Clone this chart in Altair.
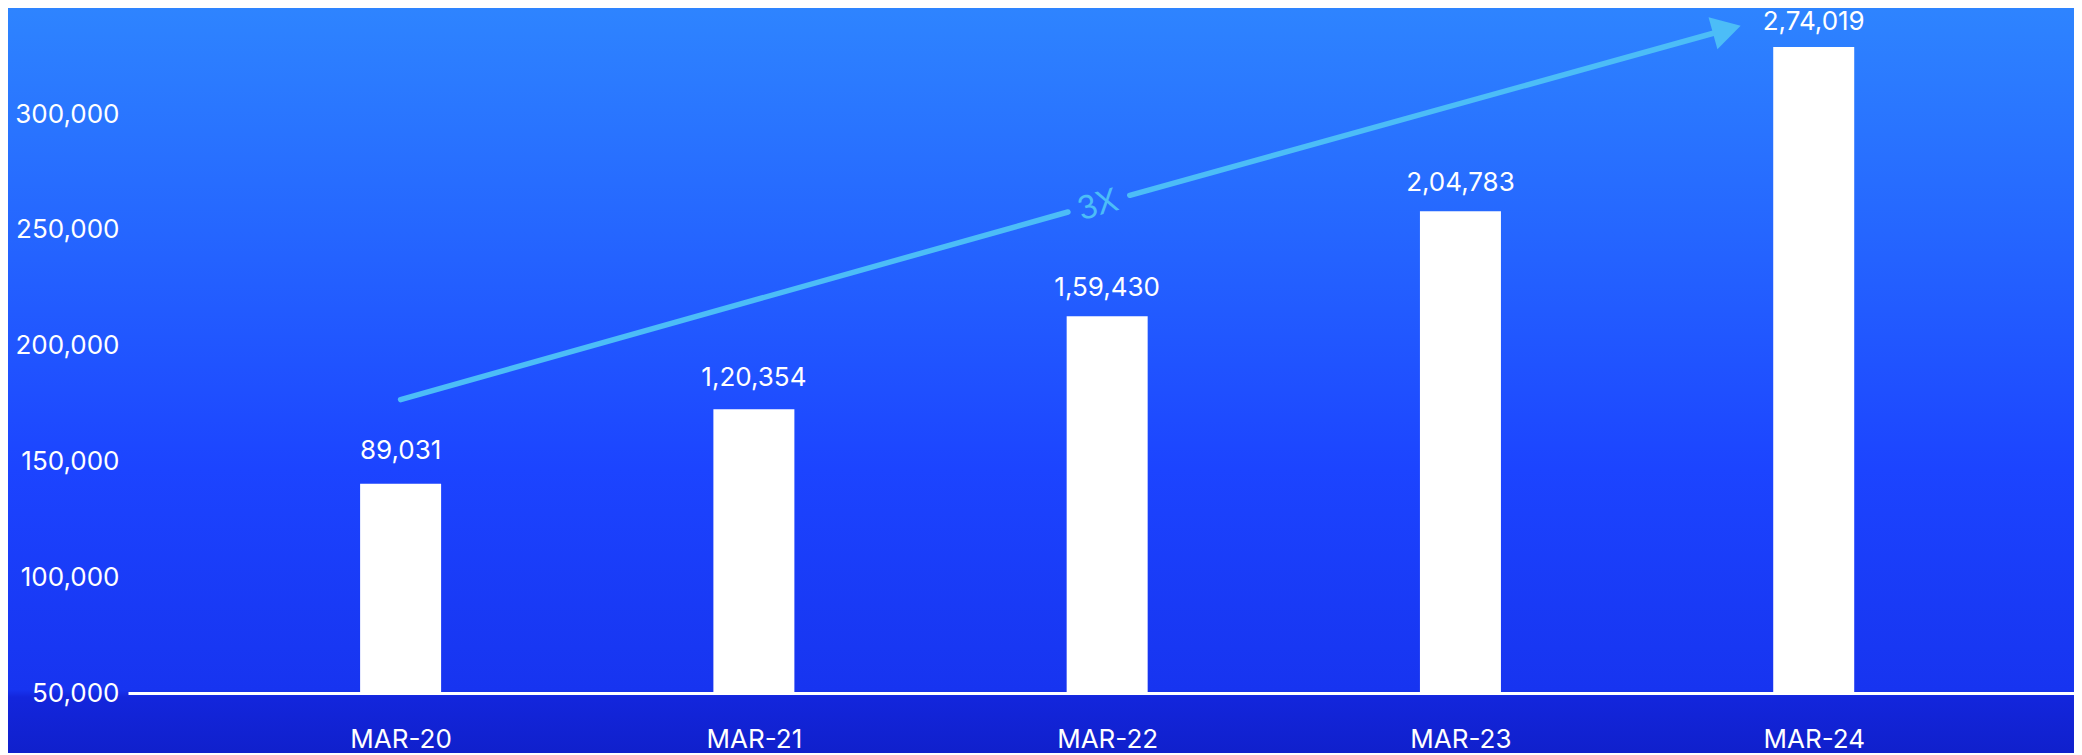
import json
import altair as alt
import pandas as pd

# ---------------- data ----------------
categories = ["MAR-20", "MAR-21", "MAR-22", "MAR-23", "MAR-24"]
bar_tops = [140400, 172500, 212650, 258000, 328900]        # bar tops
label_values = [89031, 120354, 159430, 204783, 274019]     # printed values above the bars
y_ticks = [50000, 100000, 150000, 200000, 250000, 300000]
axis_base = 50000

# trend arrow annotation (x in category-index units, y in axis units)
seg_x1 = [0.0, 2.064]
seg_x2 = [1.889, 3.754]
seg_y1 = [176680, 264900]
seg_y2 = [257690, 336490]
head_x = [3.754]
head_y = [336490]
note_x = [1.974]
note_y = [260580]
note_text = ["3X"]


def indian(n):
    s = str(n)
    if len(s) <= 3:
        return s
    last3, rest = s[-3:], s[:-3]
    parts = []
    while len(rest) > 2:
        parts.insert(0, rest[-2:])
        rest = rest[:-2]
    if rest:
        parts.insert(0, rest)
    return ",".join(parts + [last3])


df = pd.DataFrame({
    "idx": list(range(len(categories))),
    "cat": categories,
    "top": bar_tops,
    "base": [axis_base] * len(categories),
    "val": label_values,
    "label": [indian(v) for v in label_values],
})
seg_df = pd.DataFrame({"x1": seg_x1, "x2": seg_x2, "y1": seg_y1, "y2": seg_y2})
head_df = pd.DataFrame({"x": head_x, "y": head_y})
note_df = pd.DataFrame({"x": note_x, "y": note_y, "t": note_text})

W, H = 1946, 685
PAD = {"left": 120, "right": 0, "top": 0, "bottom": 60}
FONT = "Inter"
ARROW = "#4cbdf7"

xscale = alt.Scale(domain=[-0.7575, 4.7226], nice=False, zero=False)
yscale = alt.Scale(domain=[50000, 345769], nice=False, zero=False)

label_expr = json.dumps(categories) + "[datum.value]"

x_axis = alt.Axis(
    values=list(range(len(categories))), labelExpr=label_expr, title=None,
    domain=True, domainColor="white", domainWidth=3, ticks=False, grid=False,
    labelAngle=0, labelBaseline="middle", labelPadding=46, labelFontSize=26,
    labelColor="white", labelFont=FONT, zindex=1,
)
y_axis = alt.Axis(
    values=y_ticks, labelExpr="format(datum.value, ',')", title=None,
    domain=False, ticks=False, grid=False,
    labelBaseline="middle", labelPadding=9, labelFontSize=26, labelColor="white",
    labelFont=FONT, zindex=1,
)

gradient = alt.LinearGradient(
    gradient="linear",
    stops=[
        alt.GradientStop(color="#2e84ff", offset=0),
        alt.GradientStop(color="#2566ff", offset=0.3),
        alt.GradientStop(color="#1c44ff", offset=0.62),
        alt.GradientStop(color="#1734f0", offset=0.915),
        alt.GradientStop(color="#1326dc", offset=0.925),
        alt.GradientStop(color="#1020cc", offset=1),
    ],
    x1=0, x2=0, y1=0, y2=1,
)

bg = alt.Chart(pd.DataFrame({"a": [0]})).mark_rect(color=gradient).encode(
    x=alt.value(-PAD["left"]), x2=alt.value(W + PAD["right"]),
    y=alt.value(-PAD["top"]), y2=alt.value(H + PAD["bottom"]),
)

bars = alt.Chart(df).mark_bar(color="white", width=81).encode(
    x=alt.X("idx:Q", scale=xscale, axis=x_axis),
    y=alt.Y("top:Q", scale=yscale, axis=y_axis),
    y2="base:Q",
)

texts = alt.Chart(df).transform_calculate(
    ly="datum.val + " + str(axis_base)
).mark_text(
    color="white", fontSize=26, font=FONT, baseline="middle", dy=-36
).encode(
    x=alt.X("idx:Q", scale=xscale, axis=x_axis),
    y=alt.Y("ly:Q", scale=yscale, axis=y_axis),
    text="label:N",
)

segs = alt.Chart(seg_df).mark_rule(color=ARROW, strokeWidth=5.5, strokeCap="round").encode(
    x=alt.X("x1:Q", scale=xscale, axis=x_axis), x2="x2:Q",
    y=alt.Y("y1:Q", scale=yscale, axis=y_axis), y2="y2:Q",
)

head = alt.Chart(head_df).mark_point(
    shape="triangle-right", filled=True, size=1100, angle=344.5, color=ARROW, opacity=1
).encode(
    x=alt.X("x:Q", scale=xscale, axis=x_axis),
    y=alt.Y("y:Q", scale=yscale, axis=y_axis),
)

note = alt.Chart(note_df).mark_text(
    color=ARROW, fontSize=32, font=FONT, fontWeight=400, angle=344.5,
    baseline="middle", align="center",
).encode(
    x=alt.X("x:Q", scale=xscale, axis=x_axis),
    y=alt.Y("y:Q", scale=yscale, axis=y_axis),
    text="t:N",
)

chart = alt.layer(bg, bars, texts, segs, head, note).properties(
    width=W, height=H, padding=PAD, autosize=alt.AutoSizeParams(type="none"),
    background="#1424d8",
).configure_view(stroke="transparent")

chart.save("out.html", embed_options={"renderer": "svg", "actions": False})
